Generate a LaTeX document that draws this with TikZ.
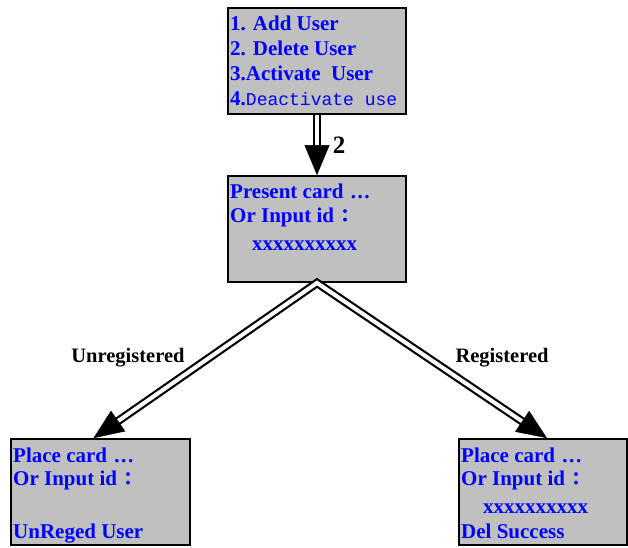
\documentclass[tikz,border=0pt]{standalone}
\usepackage{fontspec}
\setmainfont{Liberation Serif}
\newfontfamily\cjk{Noto Sans CJK TC}
\newfontfamily\monof{Liberation Mono}
\usetikzlibrary{arrows.meta,calc}
\definecolor{boxgray}{HTML}{C0C0C0}
\definecolor{txtblue}{HTML}{0000FF}
\newcommand{\fwcolon}{\hspace{2pt}{\cjk\bfseries\fontsize{18}{18}\selectfont ：}}
\newcommand{\elli}{\hspace{2pt}.\hspace{1.6pt}.\hspace{1.6pt}.}
\tikzset{
  box/.style={draw=black, line width=1.8pt, fill=boxgray, inner sep=0pt, rectangle},
  ln/.style={anchor=base west, inner sep=0pt, text=txtblue, font=\fontsize{21}{21}\selectfont\bfseries},
  lbl/.style={inner sep=0pt, text=black, font=\fontsize{20.5}{20.5}\selectfont\bfseries},
  dbl/.style={draw=black, line width=2.2pt, double=white, double distance=4pt},
  head/.style={-{Triangle[length=30pt,width=25pt]}, line width=0.5pt},
}
\begin{document}
\begin{tikzpicture}[x=1pt,y=-1pt]
\useasboundingbox (0,0) rectangle (628,547);
% boxes
\node[box, minimum width=178pt, minimum height=106pt] (top) at (317,61) {};
\node[box, minimum width=178pt, minimum height=106pt] (mid) at (317,229) {};
\node[box, minimum width=179pt, minimum height=106pt] (lft) at (100.5,492) {};
\node[box, minimum width=168pt, minimum height=106pt] (rgt) at (543,492) {};
% top box text
\node[ln] (t1) at (230,30) {1. Add User};
\node[ln] (t2) at (230,55) {2. Delete User};
\node[ln] (t3) at (230,80) {3.Activate\ \ User};
\node[ln] (t4) at (230,105) {4.{\monof\mdseries\fontsize{18}{18}\selectfont Deactivate use}};
% middle box text
\node[ln] (m1) at (230,198) {Present card \elli};
\node[ln] (m2) at (230,222) {Or Input id\fwcolon};
\node[ln] (m3) at (252,250) {xxxxxxxxxx};
% left box text
\node[ln] (l1) at (13,462) {Place card \elli};
\node[ln] (l2) at (13,485) {Or Input id\fwcolon};
\node[ln] (l3) at (13,538) {UnReged User};
% right box text
\node[ln] (r1) at (461,462) {Place card \elli};
\node[ln] (r2) at (461,485) {Or Input id\fwcolon};
\node[ln] (r3) at (483,513) {xxxxxxxxxx};
\node[ln] (r4) at (461,538) {Del Success};
% connectors
\coordinate (apex) at (mid.south);
\coordinate (tipL) at ($(lft.north)+(-7,0)$);
\coordinate (tipR) at ($(rgt.north)+(4,0)$);
\draw[dbl, shorten >=28pt] (top.south) -- (mid.north);
\draw[head] ($(mid.north)!30pt!(top.south)$) -- (mid.north);
\draw[dbl, shorten <=28pt, shorten >=28pt, line join=miter] (tipL) -- (apex) -- (tipR);
\draw[head] ($(tipL)!30pt!(apex)$) -- (tipL);
\draw[head] ($(tipR)!30pt!(apex)$) -- (tipR);
% labels
\node[lbl, font=\fontsize{25}{25}\selectfont\bfseries] (n2) at (339,145) {2};
\node[lbl] (un) at (128,358) {Unregistered};
\node[lbl] (re) at (502,358) {Registered};
\end{tikzpicture}
\end{document}
